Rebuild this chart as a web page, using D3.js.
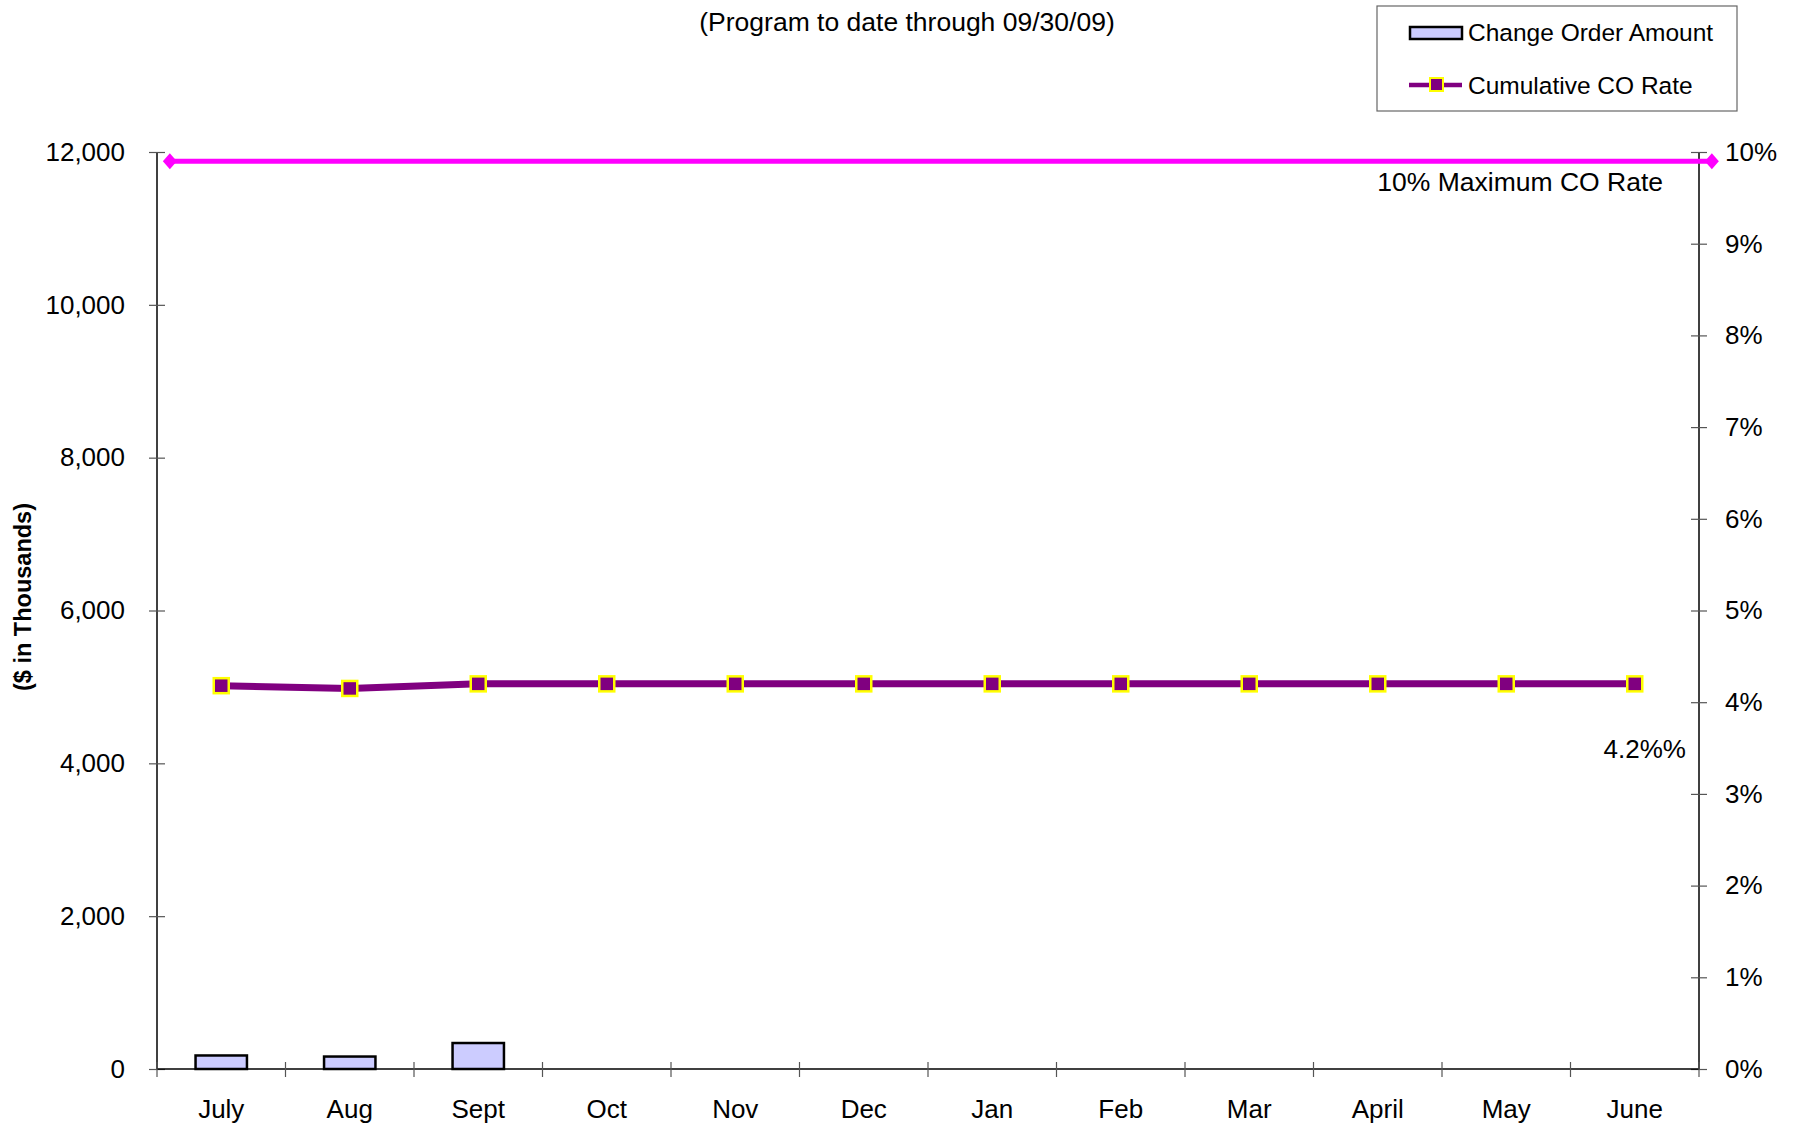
<!DOCTYPE html>
<html>
<head>
<meta charset="utf-8">
<script src="https://cdn.jsdelivr.net/npm/d3@7"></script>
<style>
  html, body { margin: 0; padding: 0; background: #fff; }
  svg { display: block; font-family: "Liberation Sans", Arial, sans-serif; }
</style>
</head>
<body>
<svg id="chart" width="1797" height="1128"></svg>
<script>
const months = ["July","Aug","Sept","Oct","Nov","Dec","Jan","Feb","Mar","April","May","June"];
const changeOrderAmount = [177, 163, 340, null, null, null, null, null, null, null, null, null];
const cumulativeRate = [4.18, 4.15, 4.2, 4.2, 4.2, 4.2, 4.2, 4.2, 4.2, 4.2, 4.2, 4.2];
const maxRatePos = [0.1, 12.1];
const maxRateVal = [9.9, 9.9];
const leftTicks = [0, 2000, 4000, 6000, 8000, 10000, 12000];
const rightTicks = [0,1,2,3,4,5,6,7,8,9,10];
const subtitle = "(Program to date through 09/30/09)";
const yTitle = "($ in Thousands)";
const legendLabels = ["Change Order Amount", "Cumulative CO Rate"];
const maxLabel = "10% Maximum CO Rate";
const endLabel = "4.2%%";

const svg = d3.select("#chart");
const L = 157, R = 1699, T = 152, B = 1069;
const FS = 26;

const x = d3.scaleBand().domain(months).range([L, R]).paddingInner(0).paddingOuter(0);
const xIdx = d3.scaleLinear().domain([0, 12]).range([L, R]);
const yL = d3.scaleLinear().domain([0, 12000]).range([B, T]);
const yR = d3.scaleLinear().domain([0, 10]).range([B, T]);

// subtitle
svg.append("text").attr("x", 907).attr("y", 31).attr("text-anchor", "middle")
  .attr("font-size", 26.5).text(subtitle);

// bars
const barW = x.bandwidth() * 0.4;
svg.append("g").selectAll("rect")
  .data(months.map((m, i) => ({m, v: changeOrderAmount[i]})).filter(d => d.v != null))
  .join("rect")
  .attr("x", d => x(d.m) + x.bandwidth() / 2 - barW / 2)
  .attr("y", d => yL(d.v))
  .attr("width", barW)
  .attr("height", d => yL(0) - yL(d.v))
  .attr("fill", "#CCCCFF").attr("stroke", "#000").attr("stroke-width", 2.5);

// left axis
const gL = svg.append("g").attr("transform", `translate(${L},0)`)
  .call(d3.axisLeft(yL).tickValues(leftTicks).tickFormat(d3.format(",")).tickSize(8).tickPadding(24));
gL.selectAll(".tick line").attr("x2", -8).attr("x1", 8);
// right axis
const gR = svg.append("g").attr("transform", `translate(${R},0)`)
  .call(d3.axisRight(yR).tickValues(rightTicks).tickFormat(d => d + "%").tickSize(8).tickPadding(18));
gR.selectAll(".tick line").attr("x1", -8).attr("x2", 8);
// bottom axis with ticks at band boundaries
const gB = svg.append("g").attr("transform", `translate(0,${B})`);
gB.append("line").attr("x1", L).attr("x2", R).attr("stroke", "#000").attr("stroke-width", 1.5);
gB.selectAll("line.tk").data(d3.range(13)).join("line").attr("class", "tk")
  .attr("x1", d => xIdx(d)).attr("x2", d => xIdx(d)).attr("y1", -7).attr("y2", 8)
  .attr("stroke", "#555").attr("stroke-width", 1.2);
gB.selectAll("text").data(months).join("text")
  .attr("x", d => x(d) + x.bandwidth() / 2).attr("y", 49)
  .attr("text-anchor", "middle").attr("font-size", FS).attr("fill", "#000").text(d => d);

[gL, gR].forEach(g => {
  g.select(".domain").attr("stroke", "#000").attr("stroke-width", 1.5);
  g.selectAll(".tick line").attr("stroke", "#555").attr("stroke-width", 1.2);
  g.selectAll(".tick text").attr("font-size", FS).attr("fill", "#000")
    .attr("font-family", "Liberation Sans, Arial, sans-serif");
});
gL.select(".domain").attr("d", `M0,${T}V${B}`);
gR.select(".domain").attr("d", `M0,${T}V${B}`);

// y title
svg.append("text").attr("transform", `translate(31,597) rotate(-90)`)
  .attr("text-anchor", "middle").attr("font-size", 23.5).attr("font-weight", "bold").text(yTitle);

// max rate line
const maxData = maxRatePos.map((p, i) => ({p, v: maxRateVal[i]}));
svg.append("path").datum(maxData)
  .attr("d", d3.line().x(d => xIdx(d.p)).y(d => yR(d.v)))
  .attr("stroke", "#FF00FF").attr("stroke-width", 5).attr("fill", "none");
svg.append("g").selectAll("path").data(maxData).join("path")
  .attr("transform", d => `translate(${xIdx(d.p)},${yR(d.v)})`)
  .attr("d", "M0,-8L7,0L0,8L-7,0Z").attr("fill", "#FF00FF");
svg.append("text").attr("x", 1663).attr("y", 191).attr("text-anchor", "end")
  .attr("font-size", 26.5).text(maxLabel);

// cumulative rate line
const rateData = months.map((m, i) => ({m, v: cumulativeRate[i]}));
svg.append("path").datum(rateData)
  .attr("d", d3.line().x(d => x(d.m) + x.bandwidth() / 2).y(d => yR(d.v)))
  .attr("stroke", "#800080").attr("stroke-width", 7).attr("fill", "none");
svg.append("g").selectAll("rect").data(rateData).join("rect")
  .attr("x", d => x(d.m) + x.bandwidth() / 2 - 7.5).attr("y", d => yR(d.v) - 7.5)
  .attr("width", 15).attr("height", 15)
  .attr("fill", "#800080").attr("stroke", "#FFFF00").attr("stroke-width", 2.5);
svg.append("text")
  .attr("x", x("June") + x.bandwidth() / 2 + 10).attr("y", 758)
  .attr("text-anchor", "middle").attr("font-size", FS).text(endLabel);

// legend
const lg = svg.append("g");
lg.append("rect").attr("x", 1377).attr("y", 6).attr("width", 360).attr("height", 105)
  .attr("fill", "#fff").attr("stroke", "#666").attr("stroke-width", 1.2);
lg.append("rect").attr("x", 1410).attr("y", 27).attr("width", 52).attr("height", 12)
  .attr("fill", "#CCCCFF").attr("stroke", "#000").attr("stroke-width", 2.5);
lg.append("text").attr("x", 1468).attr("y", 41).attr("font-size", 24.5).text(legendLabels[0]);
lg.append("line").attr("x1", 1409).attr("x2", 1462).attr("y1", 85).attr("y2", 85)
  .attr("stroke", "#800080").attr("stroke-width", 4.5);
lg.append("rect").attr("x", 1430).attr("y", 78).attr("width", 13).attr("height", 13)
  .attr("fill", "#800080").attr("stroke", "#FFFF00").attr("stroke-width", 2);
lg.append("text").attr("x", 1468).attr("y", 94).attr("font-size", 24.5).text(legendLabels[1]);
</script>
</body>
</html>
